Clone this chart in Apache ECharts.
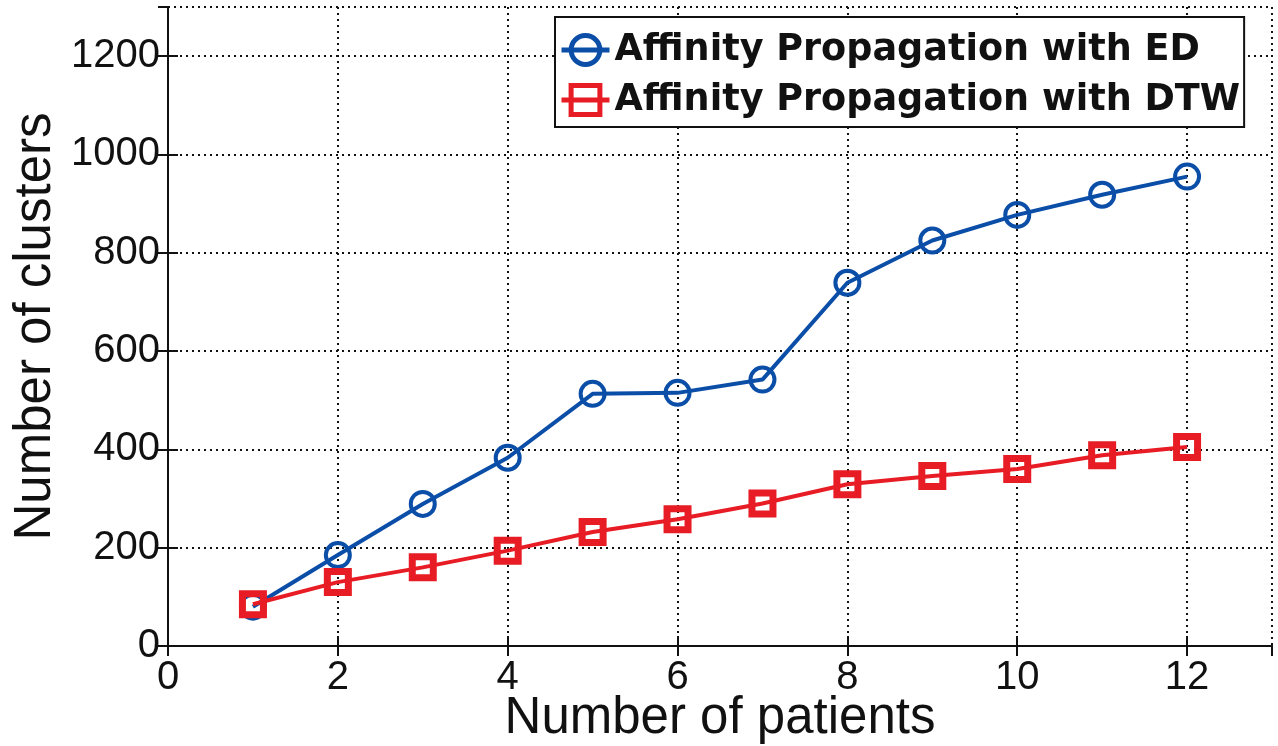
<!DOCTYPE html>
<html>
<head>
<meta charset="utf-8">
<script src="https://cdn.jsdelivr.net/npm/echarts@6/dist/echarts.min.js"></script>
<style>html,body{margin:0;padding:0;background:#fff;}#c{width:1278px;height:746px;}</style>
</head>
<body>
<div id="c"></div>
<script>
const patients = [1, 2, 3, 4, 5, 6, 7, 8, 9, 10, 11, 12];
const edClusters = [80, 185, 289, 383, 513, 515, 542, 739, 825, 877, 918, 955];
const dtwClusters = [85, 130, 160, 194, 232, 258, 290, 329, 346, 360, 388, 405];
const seriesNames = ['Affinity Propagation with ED', 'Affinity Propagation with DTW'];
const xTicks = [0, 2, 4, 6, 8, 10, 12];
const yTicks = [0, 200, 400, 600, 800, 1000, 1200];

const blue = '#0b4ea8';
const red = '#e81c24';
const font = 'Liberation Sans, Arial, sans-serif';

const chart = echarts.init(document.getElementById('c'), null, {renderer: 'canvas'});
const grid = {left: 168, right: 6, top: 7, bottom: 100, containLabel: false, outerBoundsMode: 'none'};
const gridLine = {show: true, lineStyle: {color: '#111', width: 2, type: [2, 4]}};
const axisLine = {show: true, lineStyle: {color: '#111', width: 2}};
const tickIn = {show: true, inside: true, length: 10, lineStyle: {color: '#111', width: 2}};

chart.setOption({
  animation: false,
  backgroundColor: '#fff',
  grid: grid,
  xAxis: [{
    type: 'value', min: 0, max: 13, interval: 2,
    name: 'Number of patients', nameLocation: 'middle', nameGap: 47, nameMoveOverlap: false,
    nameTextStyle: {fontFamily: font, fontSize: 51, color: '#111'},
    axisLine: axisLine, axisTick: tickIn,
    axisLabel: {fontFamily: font, fontSize: 40, color: '#111', margin: 12, showMaxLabel: false,
      formatter: v => xTicks.includes(v) ? String(v) : ''},
    splitLine: gridLine
  }, {
    type: 'value', min: 0, max: 13, interval: 2, position: 'top',
    axisLine: axisLine, axisTick: tickIn, axisLabel: {show: false}, splitLine: {show: false}
  }],
  yAxis: [{
    type: 'value', min: 0, max: 1300, interval: 200,
    name: 'Number of clusters', nameLocation: 'middle', nameGap: 107, nameMoveOverlap: false,
    nameTextStyle: {fontFamily: font, fontSize: 51, color: '#111'},
    axisLine: axisLine, axisTick: tickIn,
    axisLabel: {fontFamily: font, fontSize: 40, color: '#111', margin: 8, showMaxLabel: false,
      formatter: v => yTicks.includes(v) ? String(v) : ''},
    splitLine: gridLine
  }, {
    type: 'value', min: 0, max: 1300, interval: 200, position: 'right',
    axisLine: axisLine, axisTick: tickIn, axisLabel: {show: false}, splitLine: {show: false}
  }],
  legend: {
    left: 555, top: 17, orient: 'vertical',
    backgroundColor: '#fff', borderColor: '#111', borderWidth: 2, borderRadius: 0,
    padding: [13, 4, 7, 4], itemGap: 10, itemWidth: 48, itemHeight: 36,
    lineStyle: {width: 5},
    itemStyle: {borderWidth: 5},
    textStyle: {fontFamily: 'DejaVu Sans, sans-serif', fontSize: 36.6, fontWeight: 'bold', color: '#111', lineHeight: 40},
    data: seriesNames
  },
  series: [{
    name: seriesNames[0], type: 'line',
    data: patients.map((p, i) => [p, edClusters[i]]),
    symbol: 'circle', symbolSize: 24,
    itemStyle: {color: 'rgba(255,255,255,0)', borderColor: blue, borderWidth: 4},
    lineStyle: {color: blue, width: 4},
    z: 3
  }, {
    name: seriesNames[1], type: 'line',
    data: patients.map((p, i) => [p, dtwClusters[i]]),
    symbol: 'rect', symbolSize: 21,
    itemStyle: {color: 'rgba(255,255,255,0)', borderColor: red, borderWidth: 7},
    lineStyle: {color: red, width: 4},
    z: 4
  }]
});
</script>
</body>
</html>
